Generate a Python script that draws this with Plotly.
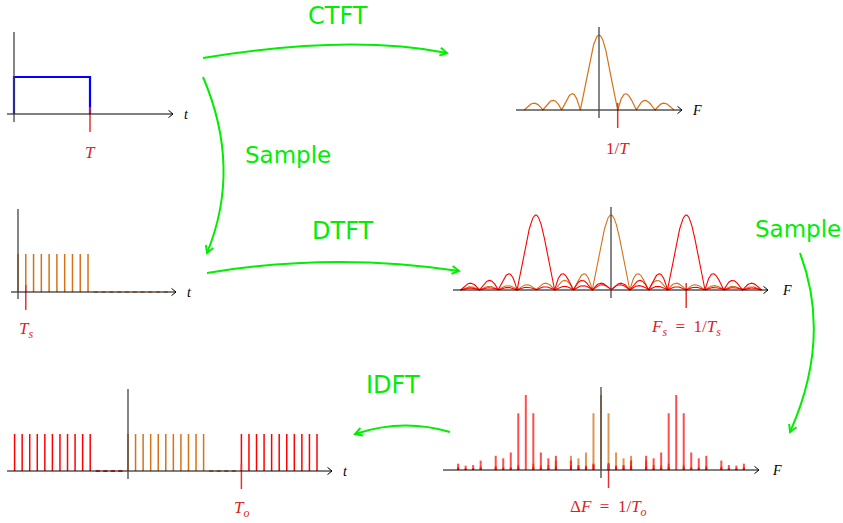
import numpy as np
import plotly.graph_objects as go

W, H = 843, 523

# ---------------- data ----------------
# x(t): rectangular pulse of width T (T = 1)
pulse_t = [0, 0, 1, 1]
pulse_a = [0, 1, 1, 0]

# CTFT |X(F)|: |sinc| with zeros every 1/T, drawn over -4/T .. 4/T
ctft_span = [-4, 4]
ctft_peak = 1.0

# sampled signal x[n], Ts = T/10 : 10 unit samples then 10 zero samples
samp_n = [0, 1, 2, 3, 4, 5, 6, 7, 8, 9, 10, 11, 12, 13, 14, 15, 16, 17, 18, 19]
samp_a = [1, 1, 1, 1, 1, 1, 1, 1, 1, 1, 0, 0, 0, 0, 0, 0, 0, 0, 0, 0]

# DTFT: spectral copies every Fs = 4/T, drawn over -8/T .. 8/T
dtft_span = [-8, 8]
dtft_centers = [0, -4, 4]
dtft_kind = ["base", "alias", "alias"]

# DFT: samples of the DTFT every dF = 0.4/T
dft_k = list(range(-20, 20))
dft_step = 0.4

# periodic extension (IDFT), To = 15 Ts
idft_n = list(range(-15, 26))
idft_a = [1] * 11 + [0] * 4 + [1] * 11 + [0] * 4 + [1] * 11
idft_kind = ["alias"] * 15 + ["base"] * 15 + ["alias"] * 11

# ---------------- styling / layout ----------------
ORANGE = "rgb(212,114,24)"
ORANGE_T = "rgba(212,114,24,0.75)"
RED = "rgb(255,0,0)"
RED_T = "rgba(255,0,0,0.7)"
TICK_RED = "rgb(228,50,50)"
LAB_RED = "rgb(220,30,30)"
GREEN = "rgb(0,238,0)"
MATH_FONT = "Liberation Serif"
TXT_FONT = "DejaVu Sans"
SP = "&nbsp;"

# pixel mapping of each small plot: origin (xo, yo), px per unit (xs, ys)
panels = {
    1: dict(xo=14, xs=76, yo=114, ys=37, ax=(7, 173), ay=(122, 32), lab="t", lab_x=186),
    2: dict(xo=599, xs=18.7, yo=110, ys=75, ax=(516, 682), ay=(118, 27), lab="F", lab_x=697),
    3: dict(xo=18, xs=7.78, yo=292, ys=38, ax=(11, 176), ay=(299, 209), lab="t", lab_x=189),
    4: dict(xo=611, xs=18.8, yo=290, ys=75, ax=(453, 768), ay=(298, 207), lab="F", lab_x=787),
    5: dict(xo=128, xs=7.56, yo=471, ys=37, ax=(7, 332), ay=(479, 389), lab="t", lab_x=345),
    6: dict(xo=601, xs=18.8, yo=470, ys=75, ax=(443, 759), ay=(478, 387), lab="F", lab_x=777),
}
ticks = {
    1: (1, "<i>T</i>"),
    2: (1, "1/<i>T</i>"),
    3: (1, "<i>T<sub>s</sub></i>"),
    4: (4, f"<i>F<sub>s</sub></i>{SP}{SP}={SP}{SP}1/<i>T<sub>s</sub></i>"),
    5: (15, "<i>T<sub>o</sub></i>"),
    6: (0.4, f"Δ<i>F</i>{SP}{SP}={SP}{SP}1/<i>T<sub>o</sub></i>"),
}


def axn(i):
    return ("x" if i == 1 else f"x{i}"), ("y" if i == 1 else f"y{i}")


def stems(xs, hs):
    X, Y = [], []
    for x, h in zip(xs, hs):
        X += [x, x, None]
        Y += [0, h, None]
    return X, Y


fig = go.Figure()


def add(i, **kw):
    xa, ya = axn(i)
    fig.add_trace(go.Scatter(xaxis=xa, yaxis=ya, showlegend=False, hoverinfo="skip", **kw))


# panel 1: pulse
add(1, x=pulse_t, y=pulse_a, mode="lines", line=dict(color="#0000FF", width=2.2))

# panel 2: CTFT
F2 = np.arange(ctft_span[0], ctft_span[1] + 1e-9, 0.01)
add(2, x=F2, y=ctft_peak * np.abs(np.sinc(F2)), mode="lines", line=dict(color=ORANGE, width=1.2))

# panel 3: samples
nz = [n for n, a in zip(samp_n, samp_a) if a > 0]
az = [a for a in samp_a if a > 0]
sx, sy = stems(nz, az)
add(3, x=sx, y=sy, mode="lines", line=dict(color=ORANGE, width=1.5))
z0 = [n for n, a in zip(samp_n, samp_a) if a == 0]
add(3, x=z0, y=[0] * len(z0), mode="markers",
    marker=dict(symbol="line-ew", size=3, line=dict(color=ORANGE_T, width=1.5)))

# panel 4: DTFT
F4 = np.arange(dtft_span[0], dtft_span[1] + 1e-9, 0.01)
for c, kind in zip(dtft_centers, dtft_kind):
    add(4, x=F4, y=np.abs(np.sinc(F4 - c)), mode="lines",
        line=dict(color=ORANGE if kind == "base" else RED, width=1.1))

# panel 5: periodic extension
for kind, col in (("alias", RED), ("base", ORANGE)):
    xs_ = [n for n, a, k in zip(idft_n, idft_a, idft_kind) if k == kind and a > 0]
    hs_ = [a for a, k in zip(idft_a, idft_kind) if k == kind and a > 0]
    sx, sy = stems(xs_, hs_)
    add(5, x=sx, y=sy, mode="lines", line=dict(color=col, width=1.5))
    z0 = [n for n, a, k in zip(idft_n, idft_a, idft_kind) if k == kind and a == 0]
    add(5, x=z0, y=[0] * len(z0), mode="markers",
        marker=dict(symbol="line-ew", size=3, line=dict(color=col, width=1.5)))

# panel 6: DFT samples of every copy
dft_F = [k * dft_step for k in dft_k]
for c, kind in zip(dtft_centers, dtft_kind):
    hs_ = [abs(float(np.sinc(f - c))) for f in dft_F]
    sx, sy = stems(dft_F, hs_)
    add(6, x=sx, y=sy, mode="lines",
        line=dict(color=ORANGE_T if kind == "base" else RED_T, width=2))

# red tick marks
for i, (tv, _) in ticks.items():
    p = panels[i]
    add(i, x=[tv, tv], y=[7 / p["ys"], -18 / p["ys"]], mode="lines",
        line=dict(color=TICK_RED, width=1.5))

# ---------------- axes / decorations in a pixel overlay ----------------
shapes, annotations = [], []
PX, PY = "x7", "y7"


def line(x0, y0, x1, y1, color, width, layer="below"):
    shapes.append(dict(type="line", xref=PX, yref=PY, x0=x0, y0=y0, x1=x1, y1=y1,
                       line=dict(color=color, width=width), layer=layer))


def chevron(tx, ty, ux, uy, L, hw, color, width, layer="below"):
    n = (ux * ux + uy * uy) ** 0.5
    ux, uy = ux / n, uy / n
    nx, ny = -uy, ux
    p = (f"M {tx - L*ux + hw*nx},{ty - L*uy + hw*ny} L {tx},{ty} "
         f"L {tx - L*ux - hw*nx},{ty - L*uy - hw*ny}")
    shapes.append(dict(type="path", xref=PX, yref=PY, path=p,
                       line=dict(color=color, width=width), layer=layer))


for i, p in panels.items():
    line(p["ax"][0], p["yo"], p["ax"][1], p["yo"], "black", 1)
    chevron(p["ax"][1], p["yo"], 1, 0, 4.5, 3.6, "black", 1)
    line(p["xo"], p["ay"][0], p["xo"], p["ay"][1], "#444", 1.3)
    annotations.append(dict(xref=PX, yref=PY, x=p["lab_x"], y=p["yo"], text=f"<i>{p['lab']}</i>",
                            showarrow=False, font=dict(family=MATH_FONT, size=14, color="black")))
    tv, txt = ticks[i]
    annotations.append(dict(xref=PX, yref=PY, x=p["xo"] + tv * p["xs"], y=p["yo"] + 38, text=txt,
                            showarrow=False, font=dict(family=MATH_FONT, size=17, color=LAB_RED)))

# green transform arrows: (start, control, end)
arrows = [
    ((203, 58), (349, 34), (447, 53)),
    ((203, 77), (242, 168), (207, 253)),
    ((207, 273), (333, 252), (459, 271)),
    ((800, 253), (832, 338), (790, 432)),
    ((450, 432), (403, 418), (355, 434)),
]
for (x0, y0), (cx, cy), (x1, y1) in arrows:
    shapes.append(dict(type="path", xref=PX, yref=PY,
                       path=f"M {x0},{y0} Q {cx},{cy} {x1},{y1}",
                       line=dict(color=GREEN, width=2), layer="above"))
    chevron(x1, y1, x1 - cx, y1 - cy, 7, 4, GREEN, 2, layer="above")

for txt, x, y, s in (("CTFT", 338, 16, 24), ("Sample", 288, 155, 23), ("DTFT", 343, 231, 24),
                     ("Sample", 798, 229, 23), ("IDFT", 393, 385, 24)):
    annotations.append(dict(xref=PX, yref=PY, x=x, y=y, text=txt, showarrow=False,
                            font=dict(family=TXT_FONT, size=s, color=GREEN)))

layout = dict(width=W, height=H, margin=dict(l=0, r=0, t=0, b=0),
              paper_bgcolor="white", plot_bgcolor="rgba(0,0,0,0)",
              shapes=shapes, annotations=annotations)
for i in range(1, 8):
    xa, ya = axn(i)
    if i <= 6:
        p = panels[i]
        xr = [(0 - p["xo"]) / p["xs"], (W - p["xo"]) / p["xs"]]
        yr = [(p["yo"] - H) / p["ys"], p["yo"] / p["ys"]]
    else:
        xr, yr = [0, W], [H, 0]
    layout["xaxis" if i == 1 else f"xaxis{i}"] = dict(domain=[0, 1], range=xr, visible=False,
                                                      anchor=ya, fixedrange=True)
    layout["yaxis" if i == 1 else f"yaxis{i}"] = dict(domain=[0, 1], range=yr, visible=False,
                                                      anchor=xa, fixedrange=True)
fig.update_layout(**layout)
fig.write_html("out.html", config={"displayModeBar": False},
               post_script="document.body.style.margin='0';document.body.style.overflow='hidden';")
